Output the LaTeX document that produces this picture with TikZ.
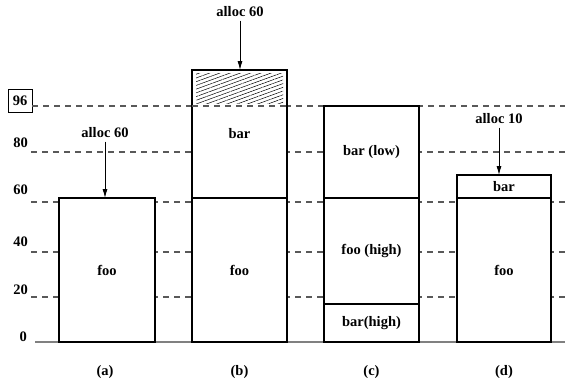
\documentclass[tikz,border=0pt]{standalone}
\usepackage{fontspec}
\setmainfont{Liberation Serif}
\usepackage{tikz}
\usetikzlibrary{positioning, arrows.meta, calc, patterns.meta}

\begin{document}
\begin{tikzpicture}[x=1pt, y=1pt, >={Latex[length=9pt,width=5pt]},
      font=\fontsize{14.5}{16}\selectfont\bfseries,
      blk/.style={draw, line width=2.2pt, fill=white, inner sep=0pt, outer sep=0pt, anchor=south},
      lvl/.style={draw=black!65, line width=1.1pt, dash pattern=on 6pt off 5pt},
      tick/.style={anchor=east, inner sep=0pt},
      hatch/.style={pattern={Lines[angle=20, distance=3.5pt, line width=0.5pt]}}]
    \useasboundingbox (0,0) rectangle (565,384);
    \node[tick] (t0)  at (27,47)  {0};
    \node[tick] (t20) at (28,94)  {20};
    \node[tick] (t40) at (28,142) {40};
    \node[tick] (t60) at (28,194) {60};
    \node[tick] (t80) at (28,241) {80};
    \node[draw, line width=0.6pt, inner sep=0pt, minimum width=24pt, minimum height=23pt] (t96) at (20,283.5) {96};
    \coordinate (top96) at (0,278);
    \foreach \yy in {87,132,182,232}
      \draw[lvl] (31,\yy) -- (565,\yy);
    \draw[lvl] (t96.east |- top96) -- (565,278);
    \draw[gray, line width=2pt] (35,42) -- (565,42);
    \node[blk, minimum width=96pt, minimum height=144pt] (fooA) at (107,42) {foo};
    \node[blk, minimum width=95pt, minimum height=144pt] (fooB) at (239.5,42) {foo};
    \node[blk, minimum width=95pt, minimum height=128pt, above=0pt of fooB] (barB) {bar};
    \fill[hatch] ($(barB.north west)+(4,-3)$) rectangle ($(barB.east |- top96)+(-4,3)$);
    \draw[lvl] (barB.west |- top96) -- (barB.east |- top96);
    \node[blk, minimum width=95pt, minimum height=38pt] (barHighC) at (371.5,42) {bar(high)};
    \node[blk, minimum width=95pt, minimum height=106pt, above=0pt of barHighC] (fooHighC) {foo (high)};
    \node[blk, minimum width=95pt, minimum height=92pt, above=0pt of fooHighC] (barLowC) {bar (low)};
    \node[blk, minimum width=94pt, minimum height=144pt] (fooD) at (504,42) {foo};
    \node[blk, minimum width=94pt, minimum height=23pt, above=0pt of fooD] (barD) {bar};
    \node (allocA) at (105,251) {alloc 60};
    \node (allocB) at (240,372) {alloc 60};
    \node (allocD) at (499,265) {alloc 10};
    \draw[->, line width=0.8pt] (allocA) -- (allocA |- fooA.north);
    \draw[->, line width=0.8pt] (allocB) -- (allocB |- barB.north);
    \draw[->, line width=0.8pt] (allocD) -- (allocD |- barD.north);
    \node (capA) at (105,12) {(a)};
    \node (capB) at (239.5,12) {(b)};
    \node (capC) at (371.5,12) {(c)};
    \node (capD) at (504,12) {(d)};
  \end{tikzpicture}
\end{document}
